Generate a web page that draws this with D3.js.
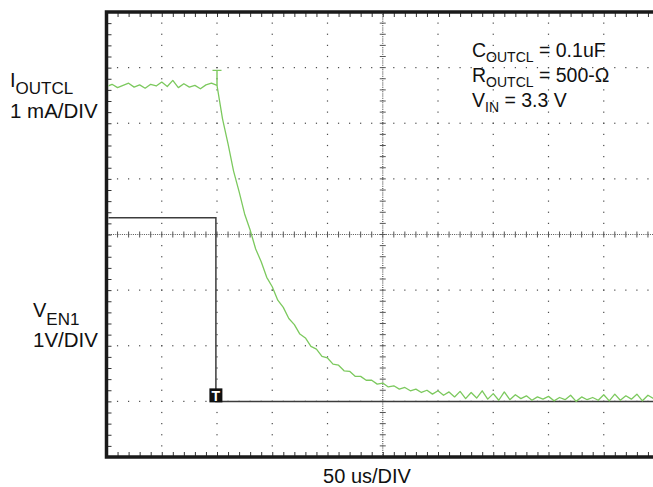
<!DOCTYPE html>
<html>
<head>
<meta charset="utf-8">
<script src="https://cdn.jsdelivr.net/npm/d3@7"></script>
<style>
  body { margin: 0; background: #fff; }
  text { font-family: "Liberation Sans", Arial, Helvetica, sans-serif; fill: #111; }
</style>
</head>
<body>
<svg id="scope" width="653" height="487"></svg>
<script>
// scope settings: 50 us/div, 1 mA/div and 1 V/div, both channels referenced 1 div above the bottom
var timeWindowUs = [-100, 400];
var levelWindow = [-1, 7];
var sampleStartUs = -100;
var sampleStepUs = 5;

// I_OUTCL samples (mA), one every 5 us starting at -100 us
var currentMa = [
  5.66, 5.70, 5.64, 5.68, 5.72, 5.65, 5.69, 5.63, 5.70, 5.67,
  5.74, 5.66, 5.77, 5.64, 5.71, 5.65, 5.68, 5.62, 5.69, 5.72,
  5.68, 5.08, 4.63, 4.14, 3.77, 3.37, 3.08, 2.74, 2.51, 2.23,
  2.06, 1.82, 1.69, 1.49, 1.38, 1.21, 1.14, 0.99, 0.94, 0.81,
  0.78, 0.67, 0.65, 0.55, 0.54, 0.45, 0.45, 0.38, 0.38, 0.31,
  0.33, 0.26, 0.28, 0.22, 0.25, 0.19, 0.22, 0.16, 0.20, 0.13,
  0.19, 0.11, 0.17, 0.08, 0.18, 0.05, 0.16, 0.06, 0.19, 0.04,
  0.14, 0.02, 0.17, 0.03, 0.12, 0.05, 0.10, 0.02, 0.08, 0.04,
  0.09, 0.01, 0.07, 0.03, 0.11, 0.00, 0.08, 0.03, 0.07, 0.02,
  0.12, 0.01, 0.13, 0.02, 0.10, 0.04, 0.13, 0.01, 0.11, 0.05
];
var currentPeakMa = 5.95;

// V_EN1 edges
var enableTimeUs = [-100, -1, -1, 400];
var enableVolts = [3.3, 3.3, 0, 0];
var triggerTimeUs = -1;

var notes = [
  { main: "C", sub: "OUTCL", rest: " = 0.1uF" },
  { main: "R", sub: "OUTCL", rest: " = 500-\u03A9" },
  { main: "V", sub: "IN", rest: " = 3.3 V" }
];

var svg = d3.select("#scope");
var plotLeft = 106.5, plotTop = 12, plotBottom = 457, divW = 55.25;

var x = d3.scaleLinear().domain(timeWindowUs).range([plotLeft, plotLeft + 10 * divW]);
var y = d3.scaleLinear().domain(levelWindow).range([plotBottom, plotTop]);

var ink = "#3c3c3c";

//grid dots every 1/5 division
var grid = svg.append("g").attr("fill", "#4a4a4a");
var xMinor = d3.range(-100, 401, 10);
var yMinor = d3.range(-1, 7.001, 0.2);
[-50, 0, 50, 100, 200, 250, 300, 350].forEach(function(t) {
  grid.selectAll(null).data(yMinor.slice(1, -1)).enter().append("rect")
    .attr("x", x(t) - 0.6).attr("y", function(v) { return y(v) - 0.6; })
    .attr("width", 1.2).attr("height", 1.2);
});
[0, 1, 2, 4, 5, 6].forEach(function(v) {
  grid.selectAll(null).data(xMinor.slice(1)).enter().append("rect")
    .attr("x", function(t) { return x(t) - 0.6; }).attr("y", y(v) - 0.6)
    .attr("width", 1.2).attr("height", 1.2);
});

//center crosshair, dense dots + ticks
var cross = svg.append("g").attr("stroke", "#555").attr("fill", "none");
cross.append("line").attr("x1", plotLeft).attr("x2", 653).attr("y1", y(3)).attr("y2", y(3))
  .attr("stroke-dasharray", "1,1.2").attr("stroke-width", 1.2);
cross.append("line").attr("x1", x(150)).attr("x2", x(150)).attr("y1", plotTop).attr("y2", plotBottom)
  .attr("stroke-dasharray", "1,1.2").attr("stroke-width", 1.2);
cross.selectAll(".hx").data(xMinor).enter().append("line")
  .attr("x1", function(t) { return x(t); }).attr("x2", function(t) { return x(t); })
  .attr("y1", y(3) - 3).attr("y2", y(3) + 3);
cross.selectAll(".vy").data(yMinor).enter().append("line")
  .attr("y1", function(v) { return y(v); }).attr("y2", function(v) { return y(v); })
  .attr("x1", x(150) - 3).attr("x2", x(150) + 3);

//frame with inward minor ticks
function frame(axis, tr) {
  var g = svg.append("g").attr("transform", tr).call(axis);
  g.selectAll("text").remove();
  g.select(".domain").remove();
  g.selectAll(".tick line").attr("stroke", "#333");
}
frame(d3.axisBottom(x).tickValues(xMinor).tickSize(-5), "translate(0," + plotBottom + ")");
frame(d3.axisTop(x).tickValues(xMinor).tickSize(-5), "translate(0," + plotTop + ")");
frame(d3.axisLeft(y).tickValues(yMinor).tickSize(-5), "translate(" + plotLeft + ",0)");

svg.append("path")
  .attr("d", "M653," + plotTop + "H" + plotLeft + "V" + plotBottom + "H653")
  .attr("fill", "none").attr("stroke", "#1a1a1a").attr("stroke-width", 3.5);

svg.append("clipPath").attr("id", "plot").append("rect")
  .attr("x", plotLeft + 2).attr("y", plotTop + 2).attr("width", 653 - plotLeft).attr("height", plotBottom - plotTop - 4);
var traces = svg.append("g").attr("clip-path", "url(#plot)");

//V_EN1
var vLine = d3.line().x(function(d, i) { return x(enableTimeUs[i]); }).y(function(d) { return y(d); });
traces.append("path").datum(enableVolts).attr("d", vLine)
  .attr("fill", "none").attr("stroke", ink).attr("stroke-width", 1.5);

//I_OUTCL
var iLine = d3.line()
  .x(function(d, i) { return x(sampleStartUs + i * sampleStepUs); })
  .y(function(d) { return y(d); });
traces.append("path").datum(currentMa).attr("d", iLine)
  .attr("fill", "none").attr("stroke", "#7cc95e").attr("stroke-width", 1.3)
  .attr("stroke-linejoin", "round");
var t0 = x(0), pk = y(currentPeakMa);
traces.append("path")
  .attr("d", "M" + t0 + "," + y(currentMa[20]) + "V" + pk + "M" + (t0 - 4.5) + "," + pk + "H" + (t0 + 4.5))
  .attr("fill", "none").attr("stroke", "#7cc95e").attr("stroke-width", 1.4);

//trigger marker
var tg = svg.append("g").attr("transform", "translate(" + x(triggerTimeUs) + "," + (y(0) - 6) + ")");
tg.append("rect").attr("x", -6.5).attr("y", -7).attr("width", 13).attr("height", 14).attr("fill", "#111");
tg.append("text").attr("text-anchor", "middle").attr("y", 5.5).attr("font-size", 14)
  .attr("font-weight", "bold").style("fill", "#fff").text("T");

//channel labels
function subLabel(xp, yp, main, sub, size, subSize, drop) {
  var t = svg.append("text").attr("x", xp).attr("y", yp).attr("font-size", size);
  t.append("tspan").text(main);
  t.append("tspan").attr("font-size", subSize).attr("dy", drop).text(sub);
  return t;
}
subLabel(10, 87, "I", "OUTCL", 20, 17, 7);
svg.append("text").attr("x", 10).attr("y", 118).attr("font-size", 20.5).text("1 mA/DIV");
subLabel(33, 317, "V", "EN1", 20, 17, 8);
svg.append("text").attr("x", 33).attr("y", 347).attr("font-size", 20.5).text("1V/DIV");

svg.append("text").attr("x", 367).attr("y", 483).attr("text-anchor", "middle")
  .attr("font-size", 20).text("50 us/DIV");

//component notes
notes.forEach(function(n, i) {
  var t = svg.append("text").attr("x", 472).attr("y", 57 + i * 25).attr("font-size", 19.5);
  t.append("tspan").text(n.main);
  t.append("tspan").attr("font-size", 14).attr("dy", 5).text(n.sub);
  t.append("tspan").attr("dy", -5).text(n.rest);
});
</script>
</body>
</html>
